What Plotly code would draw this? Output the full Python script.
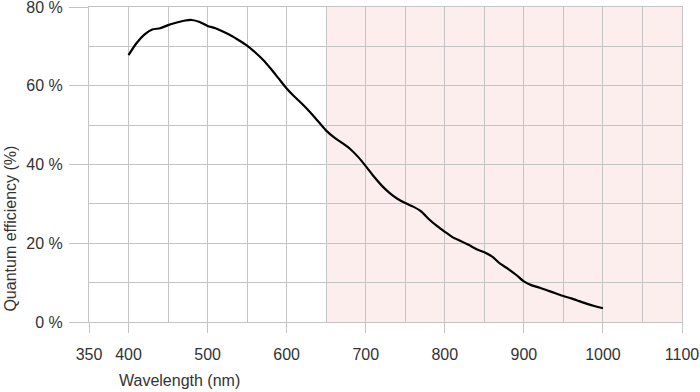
import plotly.graph_objects as go

wavelength_nm = [400, 410, 420, 430, 440, 450, 460, 470, 480, 490, 500, 510, 520, 530, 540,
                 550, 560, 570, 580, 590, 600, 610, 620, 630, 640, 650, 660, 670, 680, 690,
                 700, 710, 720, 730, 740, 750, 760, 770, 780, 790, 800, 810, 820, 830, 840,
                 850, 860, 870, 880, 890, 900, 910, 920, 930, 940, 950, 960, 970, 980, 990, 1000]
qe_percent = [67.8, 70.8, 73.0, 74.3, 74.6, 75.4, 76.0, 76.5, 76.7, 76.2, 75.2, 74.6, 73.7, 72.7, 71.5,
              70.2, 68.5, 66.6, 64.3, 61.8, 59.3, 57.2, 55.3, 53.2, 50.9, 48.6, 46.9, 45.5, 44.0, 42.0,
              39.6, 37.0, 34.7, 32.8, 31.3, 30.2, 29.3, 28.1, 26.1, 24.4, 22.9, 21.5, 20.6, 19.6, 18.5,
              17.7, 16.6, 14.8, 13.5, 12.0, 10.3, 9.3, 8.7, 8.0, 7.3, 6.6, 6.0, 5.3, 4.6, 4.0, 3.5]

x_tick_vals = [350, 400, 500, 600, 700, 800, 900, 1000, 1100]
x_tick_text = ["350", "400", "500", "600", "700", "800", "900", "1000", "1100"]
x_minor_vals = [450, 550, 650, 750, 850, 950, 1050]
y_tick_vals = [0, 20, 40, 60, 80]
y_tick_text = ["0 %", "20 %", "40 %", "60 %", "80 %"]
y_minor_vals = [10, 30, 50, 70]
shade_range = [650, 1100]

grid = "#c4c4c4"
txt = "#333333"
font = "Liberation Sans, Arial, sans-serif"

fig = go.Figure()
fig.add_trace(go.Scatter(x=wavelength_nm, y=qe_percent, mode="lines",
                         line=dict(color="black", width=2.2, shape="spline", smoothing=0.6),
                         hoverinfo="skip", showlegend=False))

fig.add_shape(type="rect", xref="x", yref="y", x0=shade_range[0], x1=shade_range[1],
              y0=0, y1=80, fillcolor="#fdeeee", line_width=0, layer="below")

fig.update_layout(
    width=700, height=392,
    margin=dict(l=89, r=18, t=7, b=70),
    paper_bgcolor="white", plot_bgcolor="white",
    font=dict(family=font, size=16, color=txt),
    xaxis=dict(range=[350, 1100], tickmode="array", tickvals=x_tick_vals, ticktext=x_tick_text,
               ticks="outside", ticklen=10, tickcolor=grid, tickwidth=1,
               showgrid=True, gridcolor=grid, gridwidth=1,
               minor=dict(tickmode="array", tickvals=x_minor_vals, showgrid=True,
                          gridcolor=grid, gridwidth=1, ticks=""),
               showline=True, linecolor=grid, linewidth=1, mirror=True,
               zeroline=False, ticklabelstandoff=8, automargin=False,
               ticklabeloverflow="allow",
               tickfont=dict(size=16, color=txt)),
    yaxis=dict(range=[0, 80], tickmode="array", tickvals=y_tick_vals, ticktext=y_tick_text,
               ticks="outside", ticklen=19, tickcolor=grid, tickwidth=1,
               showgrid=True, gridcolor=grid, gridwidth=1,
               minor=dict(tickmode="array", tickvals=y_minor_vals, showgrid=True,
                          gridcolor=grid, gridwidth=1, ticks=""),
               showline=True, linecolor=grid, linewidth=1, mirror=True,
               zeroline=False, ticklabelstandoff=3, automargin=False,
               ticklabeloverflow="allow",
               tickfont=dict(size=16, color=txt)),
    annotations=[
        dict(text="Wavelength (nm)", xref="paper", yref="paper", x=0.152, y=-0.187,
             xanchor="center", yanchor="middle", showarrow=False,
             font=dict(size=16, color=txt)),
        dict(text="Quantum efficiency (%)", xref="paper", yref="paper", x=-0.133, y=0.297,
             xanchor="center", yanchor="middle", showarrow=False, textangle=-90,
             font=dict(size=16, color=txt)),
    ],
)

fig.write_html("out.html", config={"displayModeBar": False},
               post_script="document.body.style.margin='0';document.body.style.padding='0';")
